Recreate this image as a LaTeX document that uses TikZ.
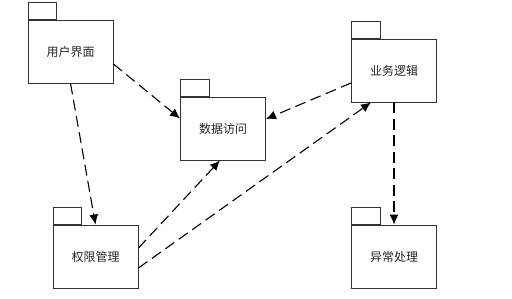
\documentclass[tikz,border=0pt]{standalone}
\usepackage{fontspec}
\newfontfamily\cjk{Noto Sans CJK SC}
\usetikzlibrary{arrows.meta}
\begin{document}
\begin{tikzpicture}[x=1pt,y=-1pt,
  pkg/.style={draw=black!80, line width=0.9pt, fill=white, minimum width=85pt, minimum height=63pt,
    inner sep=0pt, font=\cjk\fontsize{12pt}{14pt}\selectfont, text=black!85},
  pkgtab/.style={draw=black!80, line width=0.9pt, fill=white, minimum width=28.5pt, minimum height=17pt,
    inner sep=0pt, anchor=south west},
  dep/.style={draw=black, line width=1.1pt, dash pattern=on 11pt off 5.5pt,
    -{Latex[length=10pt,width=9pt]}}
]
\useasboundingbox (0,0) rectangle (512,298);
\fill[white] (0,0) rectangle (512,298);

\node[pkg] (ui) at (70.5,51.5) {用户界面};
\node[pkgtab] (uitab) at (ui.north west) {};
\node[pkg] (data) at (223,128.5) {数据访问};
\node[pkgtab] (datatab) at (data.north west) {};
\node[pkg] (biz) at (394,70.5) {业务逻辑};
\node[pkgtab] (biztab) at (biz.north west) {};
\node[pkg] (qx) at (95.5,256.5) {权限管理};
\node[pkgtab] (qxtab) at (qx.north west) {};
\node[pkg] (exc) at (394,256.5) {异常处理};
\node[pkgtab] (exctab) at (exc.north west) {};

\draw[dep] (ui.south) -- (qx.north);
\draw[dep] ([yshift=-12.5pt]ui.east) -- ([yshift=10pt]data.west);
\draw[dep] ([yshift=-12.5pt]biz.west) -- ([yshift=9.5pt]data.east);
\draw[dep] ([yshift=8.5pt]qx.east) -- ([xshift=-3pt]data.south);
\draw[dep] ([yshift=-11.5pt]qx.east) -- ([xshift=-23pt]biz.south);
\draw[dep] (biz.south) -- (exc.north);
\end{tikzpicture}
\end{document}
